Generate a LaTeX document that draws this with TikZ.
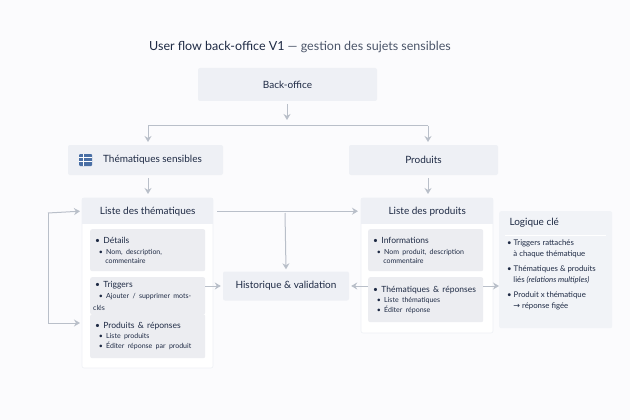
\documentclass[tikz,border=0pt]{standalone}
\usepackage{fontspec}
\setmainfont{Lato}
\newfontfamily\symfont{DejaVu Sans}
\usetikzlibrary{arrows,arrows.meta,positioning,calc}
\definecolor{ink}{HTML}{1E2A44}
\definecolor{boxfill}{HTML}{EEF0F5}
\definecolor{subfill}{HTML}{ECEDF1}
\definecolor{wire}{HTML}{B9BFC9}
\definecolor{bg}{HTML}{FBFBFD}
\definecolor{iconblue}{HTML}{4A6FA5}
\tikzset{box/.style={fill=boxfill, rounded corners=2pt, text=ink, font=\fontsize{10}{12}\selectfont}}
\tikzstyle{panel}=[draw=boxfill, fill=white, rounded corners=2pt, line width=0.6pt]
\tikzstyle{sub}=[fill=subfill, rounded corners=2pt, text=ink, align=left, anchor=north west, inner xsep=3pt, inner ysep=4pt, text width=109pt]
\tikzstyle{wire}=[draw=wire, line width=1pt]
\tikzstyle{arr}=[draw=wire, line width=1pt, -{Stealth[length=6pt,width=7pt]}]
\newcommand{\itm}[1]{{\fontsize{8.5}{11}\selectfont\hspace*{2pt}\textbullet\ #1}}
\newcommand{\sitm}[1]{{\fontsize{7}{10}\selectfont\hspace*{0.8em}\textbullet\ #1}}

\begin{document}
\begin{tikzpicture}[x=1pt, y=-1pt]
\fill[bg] (0,0) rectangle (630,420);
\useasboundingbox (0,0) rectangle (630,420);

\node[text=ink, font=\fontsize{12.5}{14}\selectfont] (title) at (300,47) {User flow back-office V1 \textcolor{ink!80}{--- gestion des sujets sensibles}};

% top level
\node[box, minimum width=179pt, minimum height=33pt] (BO) at (287.5,84.5) {Back-office};
\node[box, minimum width=155pt, minimum height=30pt] (TS) at (145.5,160) {\hspace*{14pt}Thématiques sensibles};
\node[box, minimum width=149pt, minimum height=30pt] (PR) at (423.5,160) {Produits};
\fill[iconblue, rounded corners=1pt] (79,154) rectangle (92,166);
\foreach \yy in {157.5,161.5} \draw[white, line width=0.7pt] (79,\yy) -- (92,\yy);
\draw[white, line width=0.7pt] (83.5,154) -- (83.5,166);

% panel thematiques
\draw[panel] (82,198) rectangle (213,368);
\node[box, minimum width=131pt, minimum height=26pt, anchor=north west, rounded corners=0pt] (LT) at (82,198) {Liste des thématiques};
\node[sub, minimum height=42pt] (DT) at (90,229) {\itm{Détails}\\[-1pt]\sitm{Nom, description,}\\[-3pt]{\fontsize{7}{10}\selectfont\hspace*{1.75em}commentaire}};
\node[sub, minimum height=31pt] (TR) at (90,277) {\itm{Triggers}\\[-1pt]\sitm{Ajouter / supprimer mots-clés}};
\node[sub, minimum height=44pt] (PRR) at (90,314) {\itm{Produits \& réponses}\\[-2pt]\sitm{Liste produits}\\[-2pt]\sitm{Éditer réponse par produit}};

% panel produits
\draw[panel] (361,198) rectangle (493,333);
\node[box, minimum width=132pt, minimum height=26pt, anchor=north west, rounded corners=0pt] (LP) at (361,198) {Liste des produits};
\node[sub, minimum height=42pt] (IN) at (368,229) {\itm{Informations}\\[-1pt]\sitm{Nom produit, description}\\[-3pt]{\fontsize{7}{10}\selectfont\hspace*{1.75em}commentaire}};
\node[sub, minimum height=45pt] (TRP) at (368,277) {\itm{Thématiques \& réponses}\\[-2pt]\sitm{Liste thématiques}\\[-2pt]\sitm{Éditer réponse}};

% historique
\node[box, minimum width=126pt, minimum height=29pt] (HV) at (286,286) {Historique \& validation};

% logique
\node[box, fill=boxfill!80, minimum width=113pt, minimum height=117pt, anchor=north west] (LC) at (499,211) {};
\node[text=ink, font=\fontsize{10}{12}\selectfont, anchor=west] (LCt) at (506,223) {Logique clé};
\draw[white, line width=0.8pt] (505,235) -- (606,235);
\node[text=ink, align=left, anchor=north west, font=\fontsize{7.8}{10.5}\selectfont, inner sep=0pt] (LCb) at (507,240)
  {\textbullet\ Triggers rattachés\\\hspace*{0.8em}à chaque thématique\\[5pt]
   \textbullet\ Thématiques \& produits\\\hspace*{0.8em}liés \textit{(relations multiples)}\\[5pt]
   \textbullet\ Produit x thématique\\\hspace*{0.8em}{\symfont\footnotesize →} réponse figée};

% connectors
\draw[arr] (287,104) -- (287,120);
\draw[wire] (148,126) -- (428,126);
\draw[arr] (148,126) -- (148,142);
\draw[arr] (428,126) -- (428,142);
\draw[arr] (148,178) -- (148,194);
\draw[arr] (428,178) -- (428,194);
\draw[arr] ($(LT.east)+(4,0)$) -- ($(LP.west)+(-3,0)$);
\draw[arr] (285,213) -- ($(HV.north)+(0,-2)$);
\draw[arr] (TR.east |- HV.west) -- ($(HV.west)+(-2,0)$);
\draw[arr] (TRP.west |- HV.east) -- ($(HV.east)+(2,0)$);
\draw[arr] (TRP.east |- HV.east) -- (LC.west |- HV.east);
\draw[wire] (48,213) -- (48,323);
\draw[arr] (48,213) -- ($(LT.west)+(-2,0)$);
\draw[arr] (48,323) -- (80,323);
\end{tikzpicture}
\end{document}
